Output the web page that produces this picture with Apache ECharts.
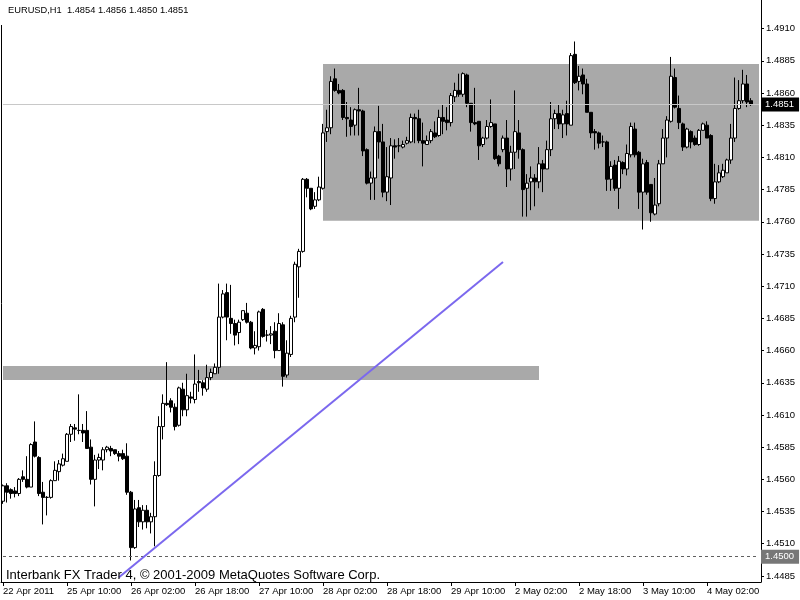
<!DOCTYPE html>
<html><head><meta charset="utf-8">
<script src="https://cdn.jsdelivr.net/npm/echarts@6/dist/echarts.min.js"></script>
<style>html,body{margin:0;padding:0;background:#fff}#c{width:800px;height:600px}</style>
</head><body><div id="c"></div><script>
const openP=[1.4543,1.4555,1.4552,1.4551,1.4549,1.4562,1.4560,1.4554,1.4589,1.4577,
1.4550,1.4546,1.4546,1.4559,1.4566,1.4571,1.4574,1.4595,1.4600,1.4598,
1.4598,1.4598,1.4585,1.4560,1.4575,1.4575,1.4583,1.4584,1.4583,1.4580,
1.4580,1.4578,1.4550,1.4507,1.4538,1.4527,1.4536,1.4527,1.4531,1.4563,
1.4601,1.4619,1.4621,1.4616,1.4602,1.4630,1.4614,1.4624,1.4622,1.4636,
1.4635,1.4630,1.4639,1.4642,1.4647,1.4686,1.4705,1.4685,1.4681,1.4674,
1.4684,1.4689,1.4682,1.4662,1.4663,1.4692,1.4672,1.4672,1.4675,1.4660,
1.4680,1.4641,1.4657,1.4686,1.4725,1.4737,1.4793,1.4786,1.4772,1.4777,
1.4786,1.4830,1.4833,1.4871,1.4862,1.4862,1.4841,1.4839,1.4835,1.4847,
1.4846,1.4816,1.4790,1.4794,1.4830,1.4822,1.4783,1.4794,1.4819,1.4819,
1.4818,1.4821,1.4822,1.4841,1.4840,1.4823,1.4820,1.4823,1.4829,1.4827,
1.4841,1.4839,1.4837,1.4857,1.4862,1.4859,1.4874,1.4852,1.4837,1.4838,
1.4820,1.4825,1.4834,1.4836,1.4811,1.4816,1.4825,1.4801,1.4814,1.4829,
1.4816,1.4786,1.4791,1.4794,1.4791,1.4805,1.4801,1.4816,1.4840,1.4844,
1.4836,1.4844,1.4835,1.4890,1.4869,1.4874,1.4867,1.4845,1.4830,1.4829,
1.4822,1.4822,1.4793,1.4804,1.4786,1.4806,1.4801,1.4812,1.4832,1.4814,
1.4783,1.4806,1.4789,1.4766,1.4774,1.4805,1.4825,1.4838,1.4872,1.4848,
1.4836,1.4818,1.4830,1.4825,1.4820,1.4831,1.4835,1.4827,1.4778,1.4791,
1.4795,1.4798,1.4808,1.4825,1.4848,1.4854,1.4867,1.4854];
const closeP=[1.4555,1.4550,1.4549,1.4549,1.4560,1.4560,1.4554,1.4587,1.4578,1.4549,
1.4546,1.4546,1.4559,1.4567,1.4572,1.4576,1.4595,1.4601,1.4599,1.4598,
1.4596,1.4584,1.4560,1.4575,1.4577,1.4583,1.4585,1.4582,1.4580,1.4578,
1.4576,1.4550,1.4507,1.4537,1.4527,1.4536,1.4527,1.4531,1.4563,1.4601,
1.4619,1.4618,1.4616,1.4601,1.4631,1.4614,1.4625,1.4623,1.4634,1.4635,
1.4631,1.4639,1.4643,1.4647,1.4686,1.4704,1.4686,1.4681,1.4672,1.4682,
1.4691,1.4682,1.4662,1.4664,1.4690,1.4671,1.4672,1.4673,1.4660,1.4681,
1.4640,1.4658,1.4685,1.4727,1.4737,1.4793,1.4786,1.4770,1.4777,1.4787,
1.4829,1.4833,1.4869,1.4862,1.4860,1.4841,1.4840,1.4834,1.4847,1.4846,
1.4815,1.4790,1.4794,1.4830,1.4822,1.4783,1.4795,1.4819,1.4818,1.4819,
1.4820,1.4823,1.4841,1.4840,1.4823,1.4821,1.4823,1.4830,1.4826,1.4841,
1.4838,1.4837,1.4858,1.4862,1.4859,1.4875,1.4852,1.4837,1.4836,1.4819,
1.4825,1.4834,1.4837,1.4809,1.4805,1.4825,1.4801,1.4814,1.4830,1.4816,
1.4785,1.4790,1.4794,1.4791,1.4805,1.4801,1.4816,1.4840,1.4844,1.4836,
1.4843,1.4836,1.4889,1.4868,1.4873,1.4867,1.4845,1.4829,1.4829,1.4821,
1.4822,1.4793,1.4803,1.4786,1.4807,1.4801,1.4813,1.4834,1.4812,1.4783,
1.4805,1.4783,1.4767,1.4773,1.4805,1.4825,1.4839,1.4873,1.4849,1.4837,
1.4818,1.4832,1.4822,1.4820,1.4831,1.4836,1.4825,1.4778,1.4791,1.4798,
1.4800,1.4808,1.4825,1.4848,1.4854,1.4867,1.4853,1.4851];
const highP=[1.4556,1.4557,1.4553,1.4554,1.4561,1.4567,1.4578,1.4588,1.4605,1.4578,
1.4558,1.4547,1.4560,1.4574,1.4575,1.4580,1.4596,1.4603,1.4603,1.4626,
1.4603,1.4613,1.4591,1.4579,1.4580,1.4585,1.4586,1.4586,1.4583,1.4582,
1.4583,1.4588,1.4551,1.4544,1.4544,1.4540,1.4540,1.4534,1.4574,1.4609,
1.4626,1.4651,1.4623,1.4619,1.4632,1.4635,1.4642,1.4628,1.4657,1.4645,
1.4637,1.4649,1.4646,1.4650,1.4712,1.4707,1.4712,1.4711,1.4684,1.4684,
1.4691,1.4697,1.4683,1.4675,1.4691,1.4693,1.4676,1.4679,1.4682,1.4689,
1.4682,1.4668,1.4687,1.4729,1.4739,1.4794,1.4794,1.4786,1.4783,1.4795,
1.4836,1.4847,1.4873,1.4879,1.4867,1.4863,1.4853,1.4849,1.4848,1.4864,
1.4847,1.4817,1.4799,1.4834,1.4850,1.4836,1.4818,1.4825,1.4824,1.4825,
1.4823,1.4826,1.4844,1.4844,1.4847,1.4837,1.4827,1.4832,1.4838,1.4847,
1.4851,1.4849,1.4860,1.4868,1.4875,1.4876,1.4875,1.4852,1.4864,1.4838,
1.4826,1.4839,1.4855,1.4836,1.4812,1.4827,1.4839,1.4819,1.4862,1.4839,
1.4817,1.4797,1.4803,1.4797,1.4818,1.4808,1.4823,1.4853,1.4847,1.4851,
1.4847,1.4854,1.4891,1.4900,1.4881,1.4879,1.4871,1.4845,1.4832,1.4830,
1.4827,1.4823,1.4807,1.4808,1.4811,1.4807,1.4820,1.4837,1.4837,1.4815,
1.4809,1.4808,1.4789,1.4794,1.4808,1.4832,1.4842,1.4888,1.4879,1.4858,
1.4837,1.4833,1.4831,1.4827,1.4832,1.4837,1.4838,1.4828,1.4805,1.4804,
1.4805,1.4809,1.4836,1.4872,1.4870,1.4878,1.4874,1.4856];
const lowP=[1.4541,1.4542,1.4545,1.4546,1.4547,1.4558,1.4553,1.4554,1.4577,1.4547,
1.4525,1.4532,1.4545,1.4559,1.4559,1.4570,1.4574,1.4589,1.4590,1.4595,
1.4589,1.4584,1.4556,1.4539,1.4568,1.4567,1.4581,1.4578,1.4579,1.4574,
1.4575,1.4548,1.4497,1.4506,1.4523,1.4521,1.4522,1.4518,1.4508,1.4562,
1.4591,1.4617,1.4612,1.4598,1.4601,1.4609,1.4609,1.4619,1.4619,1.4628,
1.4625,1.4628,1.4637,1.4642,1.4642,1.4685,1.4668,1.4673,1.4664,1.4665,
1.4683,1.4681,1.4661,1.4657,1.4660,1.4670,1.4667,1.4665,1.4654,1.4660,
1.4632,1.4639,1.4655,1.4682,1.4701,1.4736,1.4779,1.4769,1.4770,1.4776,
1.4785,1.4822,1.4828,1.4861,1.4859,1.4839,1.4826,1.4827,1.4827,1.4827,
1.4811,1.4789,1.4777,1.4777,1.4809,1.4779,1.4776,1.4773,1.4809,1.4814,
1.4817,1.4820,1.4821,1.4821,1.4821,1.4803,1.4820,1.4821,1.4825,1.4826,
1.4828,1.4831,1.4834,1.4853,1.4857,1.4857,1.4849,1.4830,1.4835,1.4808,
1.4818,1.4824,1.4833,1.4808,1.4803,1.4814,1.4787,1.4792,1.4801,1.4809,
1.4764,1.4764,1.4769,1.4772,1.4786,1.4783,1.4801,1.4811,1.4832,1.4832,
1.4825,1.4827,1.4835,1.4867,1.4862,1.4859,1.4845,1.4825,1.4816,1.4817,
1.4818,1.4784,1.4784,1.4784,1.4770,1.4797,1.4796,1.4810,1.4810,1.4770,
1.4754,1.4781,1.4760,1.4765,1.4772,1.4805,1.4810,1.4837,1.4848,1.4832,
1.4815,1.4817,1.4817,1.4819,1.4819,1.4831,1.4825,1.4776,1.4774,1.4790,
1.4794,1.4798,1.4805,1.4822,1.4847,1.4852,1.4849,1.4850];
const xTickLabels=['22 Apr 2011','25 Apr 10:00','26 Apr 02:00','26 Apr 18:00','27 Apr 10:00','28 Apr 02:00',
'28 Apr 18:00','29 Apr 10:00','2 May 02:00','2 May 18:00','3 May 10:00','4 May 02:00'];
const yTickValues=[1.4485,1.4510,1.4535,1.4560,1.4585,1.4610,1.4635,1.4660,1.4685,1.4710,1.4735,
1.4760,1.4785,1.4810,1.4835,1.4860,1.4885,1.4910];
const upperBox={from:80,to:189,low:1.47608,high:1.48825};
const lowerBox={from:0,to:134,low:1.46371,high:1.46480};
const trendLine=[[29,1.44840],[125,1.47287]];
const bidPrice=1.4851;
const levelPrice=1.4500;
const headerText='EURUSD,H1  1.4854 1.4856 1.4850 1.4851';
const footerText='Interbank FX Trader 4, \u00a9 2001-2009 MetaQuotes Software Corp.';

const nSlots=190;
const categories=[];
for(let i=0;i<nSlots;i++) categories.push(String(i));
const candles=openP.map((o,i)=>[o,closeP[i],lowP[i],highP[i]]);
const FONT="Tahoma, 'Liberation Sans', sans-serif";
const showTick=(idx)=> idx%16===0 && idx/16 < xTickLabels.length;
const hLine=(price,style,bg)=>[
  {coord:['0',price],lineStyle:style,
    label:{show:true,position:'end',distance:2,formatter:price.toFixed(4),color:'#fff',backgroundColor:bg,
      padding:[2,5,2,4],fontFamily:FONT,fontSize:9.5}},
  {coord:[String(nSlots-1),price]}];

const chart=echarts.init(document.getElementById('c'),null,{renderer:'canvas'});
chart.setOption({
  animation:false,
  backgroundColor:'#ffffff',
  grid:{left:1,right:39,top:0,bottom:18,containLabel:false},
  xAxis:{type:'category',data:categories,boundaryGap:true,
    axisLine:{show:true,lineStyle:{color:'#000',width:1}},
    axisTick:{show:true,alignWithLabel:true,interval:showTick,length:4,lineStyle:{color:'#000'}},
    axisLabel:{show:true,interval:showTick,align:'left',margin:4,color:'#000',fontFamily:FONT,fontSize:9.5,
      formatter:(v,idx)=>xTickLabels[idx/16]},
    splitLine:{show:false}},
  yAxis:{type:'value',position:'right',min:1.44803,max:1.49322,scale:true,
    axisLine:{show:true,lineStyle:{color:'#000',width:1}},
    axisTick:{show:true,length:3,customValues:yTickValues,lineStyle:{color:'#000'}},
    axisLabel:{show:true,customValues:yTickValues,margin:5,color:'#000',fontFamily:FONT,fontSize:9.5,
      formatter:v=>v.toFixed(4)},
    splitLine:{show:false}},
  series:[
    {type:'line',data:[],z:1,silent:true,
      markArea:{silent:true,itemStyle:{color:'#a9a9a9',opacity:1},
        data:[
          [{xAxis:String(upperBox.from),yAxis:upperBox.high},{xAxis:String(upperBox.to),yAxis:upperBox.low}],
          [{xAxis:String(lowerBox.from),yAxis:lowerBox.high},{xAxis:String(lowerBox.to),yAxis:lowerBox.low}]
        ]},
      markLine:{silent:true,symbol:['none','none'],animation:false,
        data:[
          hLine(bidPrice,{color:'#c8c8c8',width:1,type:'solid'},'#000'),
          hLine(levelPrice,{color:'#606060',width:1,type:[3,3]},'#777')
        ]}},
    {type:'candlestick',data:candles,z:3,barWidth:3,
      itemStyle:{color:'#ffffff',color0:'#000000',borderColor:'#000000',borderColor0:'#000000',borderColorDoji:'#000000',borderWidth:1}},
    {type:'line',data:[],z:4,silent:true,
      markLine:{silent:true,symbol:['none','none'],label:{show:false},
        lineStyle:{color:'#7b68ee',width:2,type:'solid'},
        data:[[{coord:[String(trendLine[0][0]),trendLine[0][1]]},{coord:[String(trendLine[1][0]),trendLine[1][1]]}]]}}
  ],
  graphic:[
    {type:'line',shape:{x1:1.5,y1:25,x2:1.5,y2:582},style:{stroke:'#000',lineWidth:1},z:10},
    {type:'text',left:8,top:6,style:{text:headerText,fill:'#000',font:"9.3px "+FONT},z:10},
    {type:'text',left:6,top:569,style:{text:footerText,fill:'#000',font:"13px "+FONT},z:10}
  ]
});
</script></body></html>
